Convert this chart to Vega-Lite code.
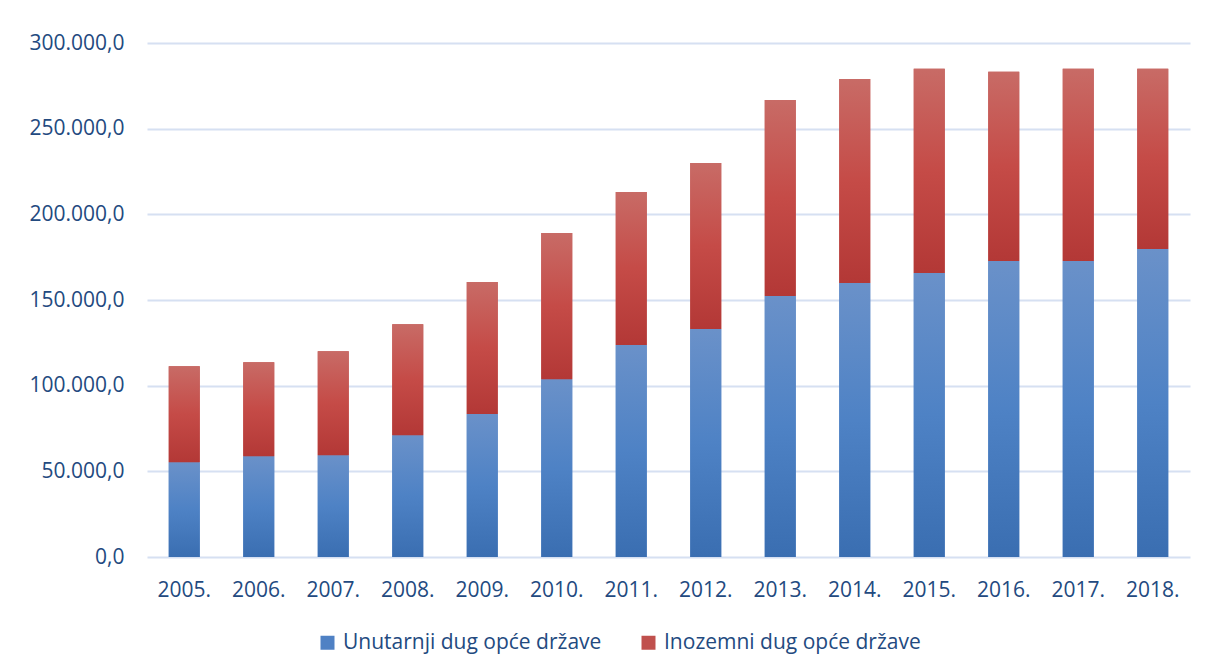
{
  "$schema": "https://vega.github.io/schema/vega-lite/v6.json",
  "width": 1043,
  "height": 514,
  "autosize": {"type": "none"},
  "padding": {"left": 147, "top": 43, "right": 26, "bottom": 114},
  "background": "white",
  "config": {
    "view": {"stroke": null},
    "font": "Open Sans",
    "locale": {"number": {"decimal": ",", "thousands": ".", "grouping": [3], "currency": ["", " kn"]}},
    "axis": {
      "labelFont": "Open Sans",
      "labelFontSize": 21,
      "labelColor": "#234a7f",
      "domain": false,
      "ticks": false,
      "tickSize": 0,
      "title": null
    }
  },
  "data": {
    "values": [
      {"godina": "2005.", "serija": "Unutarnji dug opće države", "iznos": 55300},
      {"godina": "2005.", "serija": "Inozemni dug opće države", "iznos": 56100},
      {"godina": "2006.", "serija": "Unutarnji dug opće države", "iznos": 58800},
      {"godina": "2006.", "serija": "Inozemni dug opće države", "iznos": 54900},
      {"godina": "2007.", "serija": "Unutarnji dug opće države", "iznos": 59400},
      {"godina": "2007.", "serija": "Inozemni dug opće države", "iznos": 60700},
      {"godina": "2008.", "serija": "Unutarnji dug opće države", "iznos": 71100},
      {"godina": "2008.", "serija": "Inozemni dug opće države", "iznos": 64800},
      {"godina": "2009.", "serija": "Unutarnji dug opće države", "iznos": 83400},
      {"godina": "2009.", "serija": "Inozemni dug opće države", "iznos": 77100},
      {"godina": "2010.", "serija": "Unutarnji dug opće države", "iznos": 103800},
      {"godina": "2010.", "serija": "Inozemni dug opće države", "iznos": 85300},
      {"godina": "2011.", "serija": "Unutarnji dug opće države", "iznos": 123700},
      {"godina": "2011.", "serija": "Inozemni dug opće države", "iznos": 89300},
      {"godina": "2012.", "serija": "Unutarnji dug opće države", "iznos": 133100},
      {"godina": "2012.", "serija": "Inozemni dug opće države", "iznos": 96800},
      {"godina": "2013.", "serija": "Unutarnji dug opće države", "iznos": 152300},
      {"godina": "2013.", "serija": "Inozemni dug opće države", "iznos": 114500},
      {"godina": "2014.", "serija": "Unutarnji dug opće države", "iznos": 159900},
      {"godina": "2014.", "serija": "Inozemni dug opće države", "iznos": 119100},
      {"godina": "2015.", "serija": "Unutarnji dug opće države", "iznos": 165700},
      {"godina": "2015.", "serija": "Inozemni dug opće države", "iznos": 119200},
      {"godina": "2016.", "serija": "Unutarnji dug opće države", "iznos": 172700},
      {"godina": "2016.", "serija": "Inozemni dug opće države", "iznos": 110500},
      {"godina": "2017.", "serija": "Unutarnji dug opće države", "iznos": 172700},
      {"godina": "2017.", "serija": "Inozemni dug opće države", "iznos": 112200},
      {"godina": "2018.", "serija": "Unutarnji dug opće države", "iznos": 179700},
      {"godina": "2018.", "serija": "Inozemni dug opće države", "iznos": 105200}
    ]
  },
  "transform": [
    {"stack": "iznos", "groupby": ["godina"], "sort": [{"field": "serija", "order": "descending"}], "as": ["v0", "v1"]}
  ],
  "encoding": {
    "x": {
      "field": "godina",
      "type": "ordinal",
      "scale": {"paddingInner": 0.584, "paddingOuter": 0.292},
      "axis": {"labelAngle": 0, "labelPadding": 22, "grid": false}
    },
    "y": {
      "field": "v1",
      "type": "quantitative",
      "scale": {"domain": [0, 300000], "nice": false},
      "axis": {
        "values": [0, 50000, 100000, 150000, 200000, 250000, 300000],
        "format": ",.1f",
        "grid": true,
        "gridColor": "#d6e0f2",
        "gridWidth": 2,
        "labelPadding": 23
      }
    },
    "y2": {"field": "v0"}
  },
  "layer": [
    {
      "mark": {"type": "bar"},
      "encoding": {
        "color": {
          "field": "serija",
          "type": "nominal",
          "scale": {
            "domain": ["Unutarnji dug opće države", "Inozemni dug opće države"],
            "range": ["#4f81c4", "#c0504d"]
          },
          "legend": {
            "title": null,
            "orient": "none",
            "legendX": 170,
            "legendY": 589,
            "direction": "horizontal",
            "symbolType": "square",
            "symbolSize": 196,
            "symbolStrokeWidth": 0,
            "labelFont": "Open Sans",
            "labelFontSize": 21,
            "labelColor": "#234a7f",
            "labelOffset": 5,
            "labelLimit": 400,
            "columnPadding": 36,
            "padding": 0
          }
        }
      }
    },
    {
      "transform": [{"filter": "datum.serija === 'Unutarnji dug opće države'"}],
      "mark": {
        "type": "bar",
        "color": {
          "gradient": "linear", "x1": 0, "y1": 0, "x2": 0, "y2": 1,
          "stops": [
            {"offset": 0, "color": "#6a91c9"},
            {"offset": 0.5, "color": "#4e82c5"},
            {"offset": 1, "color": "#3a6eb1"}
          ]
        }
      }
    },
    {
      "transform": [{"filter": "datum.serija === 'Inozemni dug opće države'"}],
      "mark": {
        "type": "bar",
        "color": {
          "gradient": "linear", "x1": 0, "y1": 0, "x2": 0, "y2": 1,
          "stops": [
            {"offset": 0, "color": "#c86b66"},
            {"offset": 0.5, "color": "#c54b47"},
            {"offset": 1, "color": "#b33836"}
          ]
        }
      }
    }
  ]
}
